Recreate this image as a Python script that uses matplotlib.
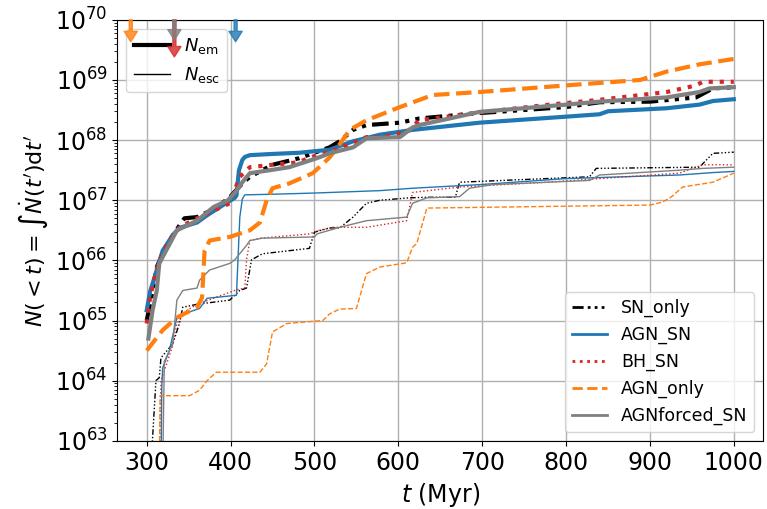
import numpy as np
import matplotlib
matplotlib.use('Agg')
import matplotlib.pyplot as plt

# values: time (Myr) and log10 N
# thick lines: N_em, thin lines: N_esc
sn_em_t = [300, 304, 307, 312, 319, 327, 339, 345, 360, 372, 387, 399, 414, 423, 450, 482, 518, 530, 546, 562, 602, 625, 697, 800, 840, 900, 955, 967, 975, 1000]
sn_em = [65.0, 65.27, 65.48, 65.89, 66.11, 66.33, 66.58, 66.70, 66.72, 66.80, 66.92, 67.05, 67.28, 67.39, 67.59, 67.70, 67.88, 67.98, 68.17, 68.25, 68.29, 68.36, 68.45, 68.55, 68.63, 68.64, 68.71, 68.80, 68.86, 68.88]

agnsn_em_t = [300, 304, 312, 319, 331, 339, 360, 372, 391, 405, 407, 410, 414, 417, 423, 450, 482, 518, 546, 578, 617, 697, 800, 840, 850, 920, 959, 975, 1000]
agnsn_em = [65.17, 65.48, 65.84, 66.16, 66.42, 66.54, 66.63, 66.75, 66.92, 67.04, 67.08, 67.50, 67.67, 67.72, 67.75, 67.77, 67.79, 67.84, 67.98, 68.09, 68.17, 68.29, 68.39, 68.43, 68.48, 68.53, 68.59, 68.65, 68.68]

bh_em_t = [300, 304, 312, 319, 327, 339, 360, 399, 411, 423, 450, 480, 503, 518, 546, 562, 578, 610, 625, 697, 780, 840, 920, 955, 963, 1000]
bh_em = [64.95, 65.38, 65.86, 66.12, 66.33, 66.55, 66.70, 66.95, 67.39, 67.55, 67.59, 67.63, 67.75, 67.80, 67.95, 68.05, 68.05, 68.13, 68.33, 68.46, 68.59, 68.67, 68.80, 68.91, 68.97, 68.97]

agn_em_t = [300, 319, 336, 360, 366, 369, 375, 399, 423, 435, 443, 450, 470, 498, 518, 530, 542, 562, 602, 641, 697, 800, 888, 920, 959, 1000]
agn_em = [64.50, 64.84, 65.05, 65.22, 65.38, 66.16, 66.33, 66.39, 66.50, 66.63, 67.00, 67.20, 67.28, 67.45, 67.71, 67.93, 68.17, 68.33, 68.55, 68.75, 68.80, 68.91, 69.00, 69.14, 69.26, 69.35]

forced_em_t = [302, 307, 312, 315, 323, 336, 348, 360, 380, 397, 407, 414, 423, 447, 470, 503, 518, 546, 562, 602, 617, 625, 697, 800, 840, 920, 959, 971, 1000]
forced_em = [64.70, 65.17, 65.50, 65.95, 66.16, 66.50, 66.58, 66.66, 66.89, 67.00, 67.16, 67.30, 67.45, 67.50, 67.55, 67.70, 67.78, 67.88, 68.03, 68.05, 68.21, 68.25, 68.47, 68.59, 68.64, 68.71, 68.80, 68.86, 68.88]

sn_esc_t = [305, 307, 311, 315, 317, 331, 339, 343, 360, 399, 411, 419, 425, 438, 494, 500, 518, 530, 546, 562, 578, 613, 634, 668, 673, 828, 836, 959, 975, 1000]
sn_esc = [62.5, 63.05, 64.00, 64.05, 64.38, 64.61, 64.95, 65.22, 65.27, 65.34, 65.50, 65.54, 66.01, 66.11, 66.20, 66.47, 66.54, 66.54, 66.72, 66.95, 67.00, 67.04, 67.05, 67.05, 67.30, 67.39, 67.53, 67.55, 67.78, 67.80]

agnsn_esc_t = [317, 318, 319, 327, 336, 348, 363, 372, 407, 411, 414, 417, 450, 500, 578, 617, 697, 800, 935, 975, 1000]
agnsn_esc = [62.5, 63.89, 64.21, 64.50, 65.05, 65.13, 65.20, 65.37, 65.42, 66.72, 67.02, 67.09, 67.10, 67.12, 67.16, 67.20, 67.26, 67.36, 67.42, 67.46, 67.48]

bh_esc_t = [315, 317, 331, 336, 348, 360, 407, 417, 419, 423, 435, 494, 503, 522, 562, 610, 617, 673, 777, 935, 963, 1000]
bh_esc = [62.5, 64.00, 64.58, 64.95, 65.17, 65.27, 65.51, 65.54, 66.01, 66.33, 66.37, 66.44, 66.49, 66.55, 66.55, 66.66, 67.13, 67.22, 67.30, 67.45, 67.59, 67.59]

agn_esc_t = [315, 316, 351, 363, 372, 383, 435, 443, 450, 467, 510, 518, 530, 550, 562, 578, 610, 617, 622, 634, 900, 915, 925, 939, 975, 1000]
agn_esc = [62.5, 63.75, 63.75, 63.84, 64.00, 64.14, 64.14, 64.28, 64.81, 64.95, 65.00, 65.11, 65.19, 65.20, 65.78, 65.89, 65.96, 66.22, 66.28, 66.87, 66.92, 66.97, 67.05, 67.22, 67.30, 67.45]

forced_esc_t = [319, 321, 331, 336, 343, 360, 363, 375, 399, 405, 419, 423, 438, 500, 503, 530, 562, 610, 617, 634, 673, 685, 712, 828, 840, 935, 963, 1000]
forced_esc = [62.5, 64.32, 64.61, 65.34, 65.50, 65.54, 65.67, 65.84, 65.95, 66.01, 66.25, 66.33, 66.37, 66.39, 66.44, 66.55, 66.66, 66.72, 66.95, 67.04, 67.06, 67.20, 67.26, 67.33, 67.42, 67.50, 67.53, 67.55]

labels = ['SN_only', 'AGN_SN', 'BH_SN', 'AGN_only', 'AGNforced_SN']
colors = ['k', 'tab:blue', 'tab:red', 'tab:orange', 'gray']
styles = [(0, (4, 1.5, 1, 1.5, 1, 1.5, 1, 1.5)), '-', ':', '--', '-']
em = [(sn_em_t, sn_em), (agnsn_em_t, agnsn_em), (bh_em_t, bh_em), (agn_em_t, agn_em), (forced_em_t, forced_em)]
esc = [(sn_esc_t, sn_esc), (agnsn_esc_t, agnsn_esc), (bh_esc_t, bh_esc), (agn_esc_t, agn_esc), (forced_esc_t, forced_esc)]

# first BH seeding time per run (arrows at the top)
arrow_t = [281, 333, 333, 406]
arrow_tip = [0.948, 0.912, 0.952, 0.948]
arrow_c = ['tab:orange', 'tab:red', 'gray', 'tab:blue']

fig, ax = plt.subplots(figsize=(7.67, 5.09), dpi=100)
fig.subplots_adjust(left=0.153, right=0.995, top=0.961, bottom=0.134)

for (t, y), c, ls in zip(esc, colors, styles):
    ax.plot(t, 10.0 ** np.array(y), color=c, ls=ls, lw=1)
for (t, y), c, ls in zip(em, colors, styles):
    ax.plot(t, 10.0 ** np.array(y), color=c, ls=ls, lw=3)

ax.set_yscale('log')
ax.set_ylim(1e63, 1e70)
ax.grid(True, color='#b0b0b0', lw=1)
ax.tick_params(labelsize=17)
ax.set_xlabel(r'$t$ (Myr)', fontsize=17, labelpad=5)
ax.set_ylabel(r"$N(<t)=\int\dot N(t^\prime){\rm d}t^\prime$", fontsize=16)

# legends
h1 = [plt.Line2D([], [], color='k', lw=3), plt.Line2D([], [], color='k', lw=1)]
leg1 = ax.legend(h1, [r'$N_{\rm em}$', r'$N_{\rm esc}$'], loc='upper left', fontsize=13)
ax.add_artist(leg1)
h2 = [plt.Line2D([], [], color=c, ls=ls, lw=2) for c, ls in zip(colors, styles)]
ax.legend(h2, labels, loc='lower right', fontsize=12.5)

for t, tip, c in zip(arrow_t, arrow_tip, arrow_c):
    ax.annotate('', xy=(t, tip), xytext=(t, 1.0), xycoords=('data', 'axes fraction'),
                arrowprops=dict(color=c, alpha=0.8, width=2.2, headwidth=9.5, headlength=7.5, shrink=0),
                zorder=10)

plt.savefig('out.png')
